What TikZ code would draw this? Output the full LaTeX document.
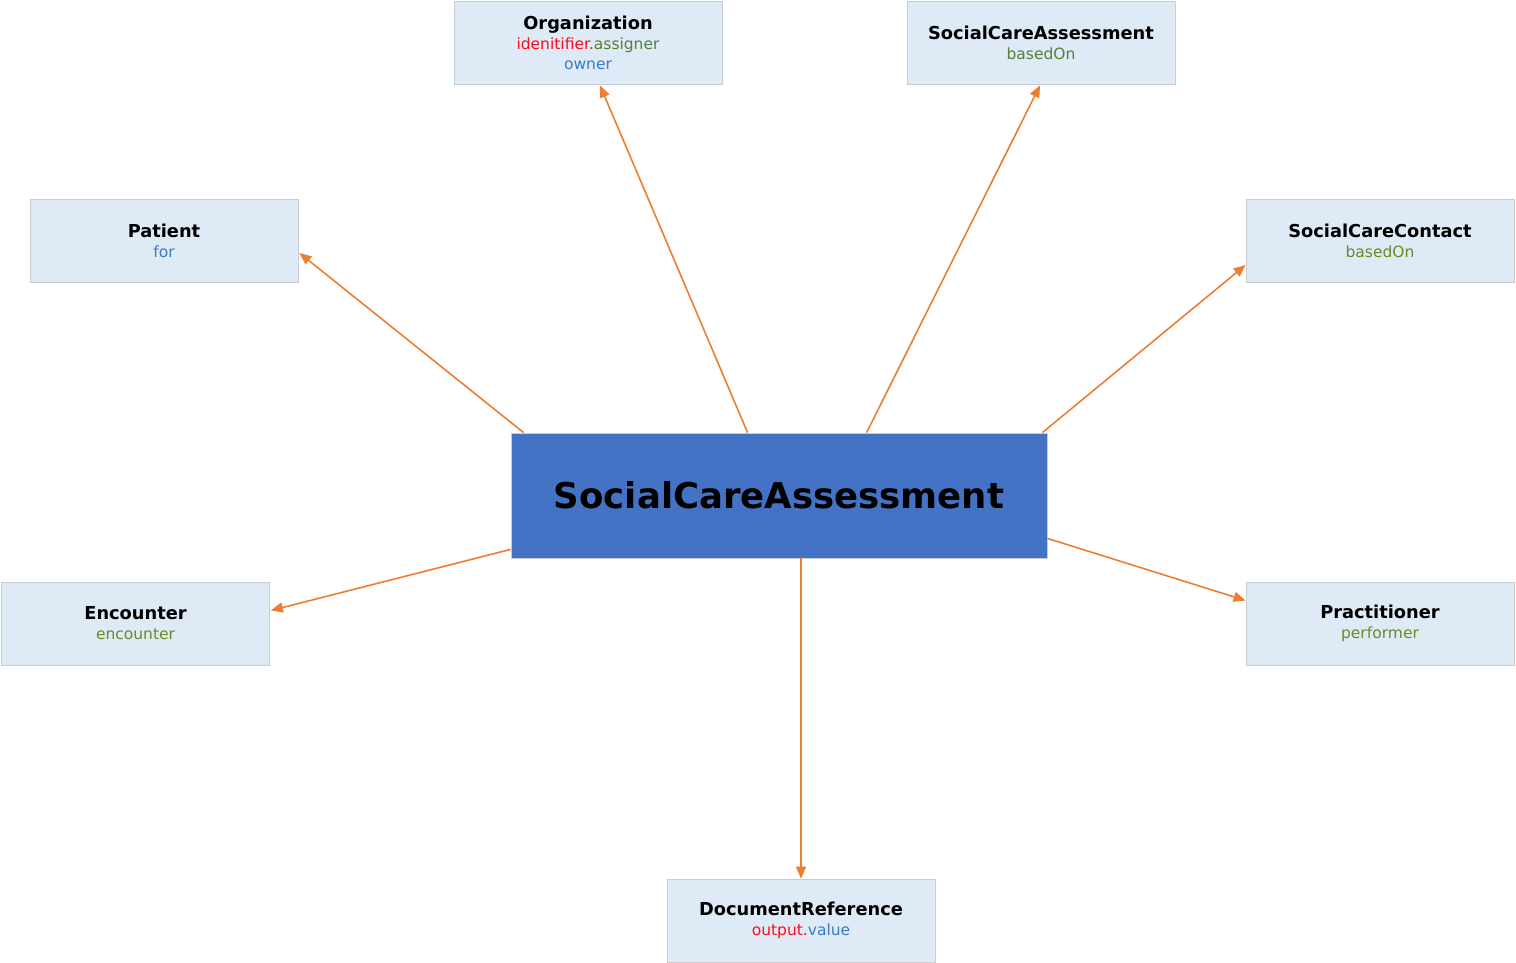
\documentclass[tikz,border=0pt]{standalone}
\usepackage{fontspec}
\setmainfont{DejaVu Sans}
\usetikzlibrary{arrows.meta,calc}
\definecolor{boxfill}{HTML}{DEEAF6}
\definecolor{boxdraw}{HTML}{C8CDD2}
\definecolor{mainfill}{HTML}{4472C4}
\definecolor{arrowc}{HTML}{ED7D31}
\definecolor{tblue}{HTML}{3A7CC4}
\definecolor{tgreen}{HTML}{548235}
\definecolor{tolive}{HTML}{6B8A23}
\definecolor{tred}{HTML}{FF0A1E}
\tikzset{
  refbox/.style={rectangle, draw=boxdraw, fill=boxfill, line width=0.8pt,
    minimum width=268pt, minimum height=83pt, inner sep=0pt, align=center,
    font=\fontsize{15.5}{20}\selectfont},
  mainbox/.style={rectangle, draw=boxdraw, fill=mainfill, line width=0.8pt,
    minimum width=536pt, minimum height=125pt, inner sep=0pt,
    font=\fontsize{35.5}{40}\selectfont\bfseries},
  link/.style={draw=arrowc, line width=1.6pt, -{Triangle[length=12pt,width=10pt]}}
}
\newcommand{\ttlx}[1]{{\fontsize{17.8}{20}\selectfont\bfseries #1}}
\begin{document}
\begin{tikzpicture}[x=1pt,y=-1pt]
\useasboundingbox (0,0) rectangle (1516,963);
\node[mainbox] (main) at (779,495.5) {SocialCareAssessment};
\node[refbox] (org) at (588,42.5) {\ttlx{Organization}\\\textcolor{tred}{idenitifier.}\textcolor{tgreen}{assigner}\\\textcolor{tblue}{owner}};
\node[refbox] (sca) at (1041,42.5) {\ttlx{SocialCareAssessment}\\\textcolor{tgreen}{basedOn}};
\node[refbox] (pat) at (164,241) {\ttlx{Patient}\\\textcolor{tblue}{for}};
\node[refbox] (scc) at (1380,241) {\ttlx{SocialCareContact}\\\textcolor{tolive}{basedOn}};
\node[refbox] (enc) at (135.5,623.5) {\ttlx{Encounter}\\\textcolor{tolive}{encounter}};
\node[refbox] (prac) at (1380,623.5) {\ttlx{Practitioner}\\\textcolor{tolive}{performer}};
\node[refbox] (doc) at (801,920.5) {\ttlx{DocumentReference}\\\textcolor{tred}{output.}\textcolor{tblue}{value}};
\draw[link] ($(main.north west)+(13,0)$) -- ($(pat.east)+(1,12)$);
\draw[link] ($(main.north west)+(237,0)$) -- ($(org.south)+(12,1)$);
\draw[link] ($(main.north west)+(356,0)$) -- ($(sca.south)+(-1,1)$);
\draw[link] ($(main.north east)+(-5,0)$) -- ($(scc.west)+(0,24)$);
\draw[link] ($(main.south west)+(0,-9)$) -- ($(enc.east)+(1,-13)$);
\draw[link] ($(main.south east)+(0,-20)$) -- ($(prac.west)+(0,-23)$);
\draw[link] ($(main.south)+(22,0)$) -- (doc.north);
\end{tikzpicture}
\end{document}
